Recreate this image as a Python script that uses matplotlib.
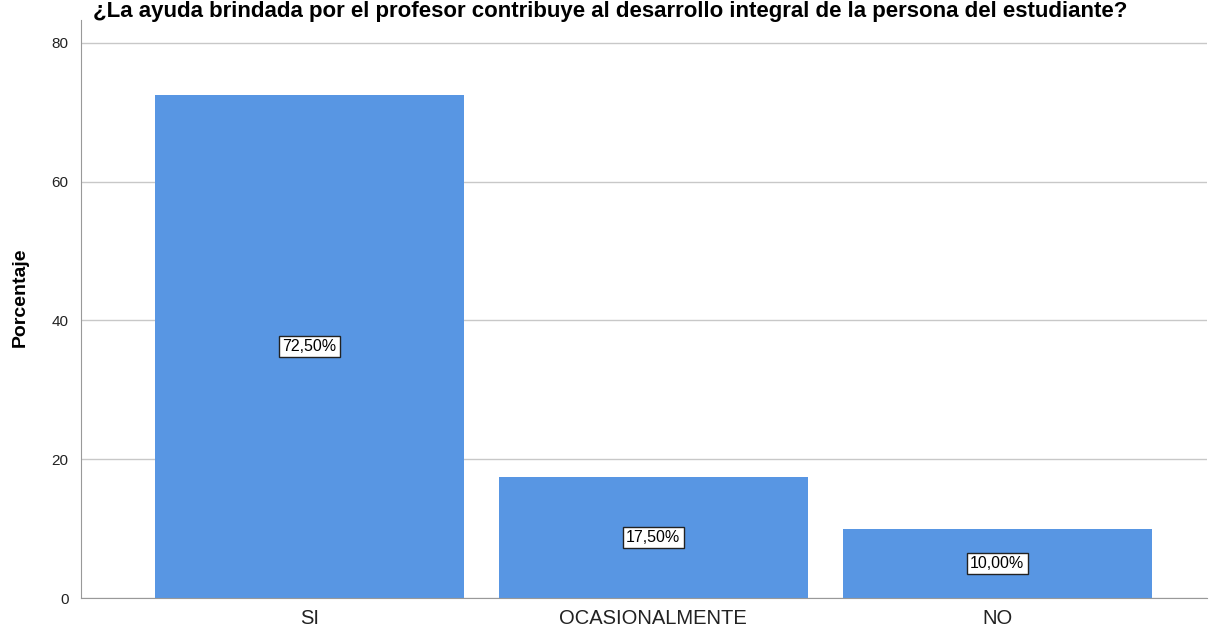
import matplotlib
matplotlib.use("Agg")
import matplotlib.pyplot as plt

categorias = ["SI", "OCASIONALMENTE", "NO"]
porcentajes = [72.5, 17.5, 10.0]
etiquetas = ["72,50%", "17,50%", "10,00%"]
yticks = [0, 20, 40, 60, 80]
titulo = "¿La ayuda brindada por el profesor contribuye al desarrollo integral de la persona del estudiante?"

plt.rcParams['font.family'] = ['Liberation Sans', 'DejaVu Sans']

fig = plt.figure(figsize=(12.11, 6.33), dpi=100)
ax = fig.add_axes([81/1211, 35/633, 1126/1211, 578/633])

x = range(len(categorias))
ax.bar(x, porcentajes, width=0.898, color='#5896e3', zorder=2)

for xi, v, t in zip(x, porcentajes, etiquetas):
    ax.text(xi, v / 2, t, ha='center', va='center', fontsize=11.5, zorder=3,
            bbox=dict(boxstyle='square,pad=0.2', fc='white', ec='#222222', lw=1))

ax.set_xlim(-0.664, 2.61)
ax.set_ylim(0, 83.3)
ax.set_yticks(yticks)
ax.set_xticks(list(x))
ax.set_xticklabels(categorias, fontsize=14.5)
ax.tick_params(axis='x', length=0, pad=8, colors='#222222')
ax.tick_params(axis='y', length=0, pad=9, labelsize=11, colors='#222222')
ax.grid(axis='y', color='#c8c8c8', lw=1, zorder=0)

for s in ['top', 'right']:
    ax.spines[s].set_visible(False)
ax.spines['left'].set_color('#999999')
ax.spines['bottom'].set_color('#999999')

ax.set_ylabel("Porcentaje", fontsize=14, fontweight='bold')
ax.yaxis.set_label_coords(-52/1126, 0.52)

fig.text(610/1211, 1 - 1/633, titulo, ha='center', va='top',
         fontsize=16, fontweight='bold')

fig.savefig("out.png", dpi=100)
